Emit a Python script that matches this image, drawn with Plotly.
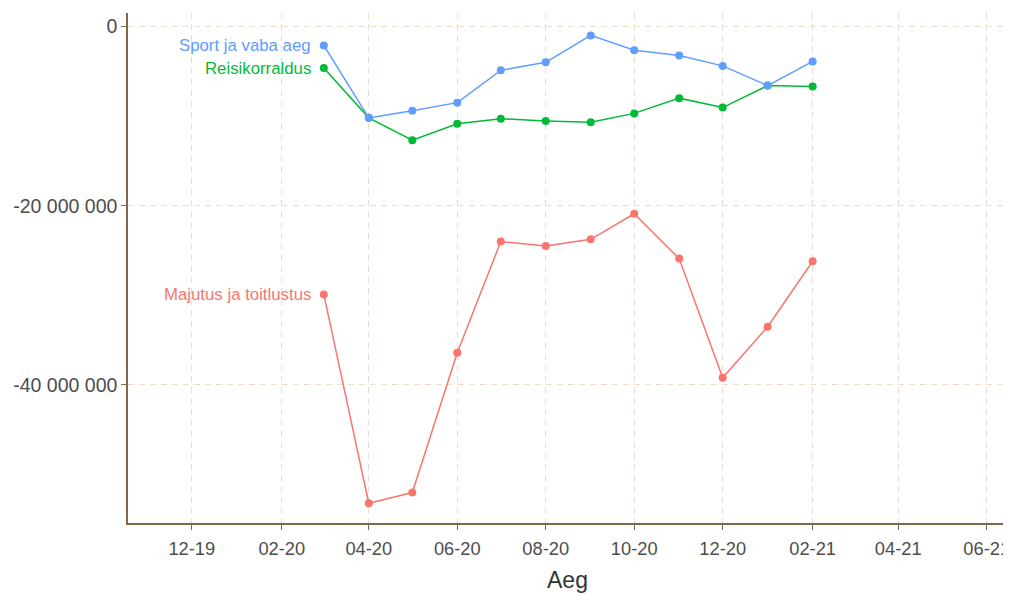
import plotly.graph_objects as go

months = ["2020-03-01", "2020-04-01", "2020-05-01", "2020-06-01", "2020-07-01", "2020-08-01",
          "2020-09-01", "2020-10-01", "2020-11-01", "2020-12-01", "2021-01-01", "2021-02-01"]

majutus = [-29.9e6, -53.2e6, -52.0e6, -36.4e6, -24.0e6, -24.5e6,
           -23.75e6, -20.9e6, -25.9e6, -39.2e6, -33.5e6, -26.2e6]
reisikorraldus = [-4.65e6, -10.2e6, -12.7e6, -10.85e6, -10.3e6, -10.55e6,
                  -10.7e6, -9.7e6, -8.0e6, -9.05e6, -6.6e6, -6.7e6]
sport = [-2.12e6, -10.2e6, -9.4e6, -8.5e6, -4.9e6, -4.0e6,
         -1.0e6, -2.65e6, -3.25e6, -4.4e6, -6.6e6, -3.9e6]

series = [
    ("Majutus ja toitlustus", majutus, "#F8766D"),
    ("Reisikorraldus", reisikorraldus, "#00BA38"),
    ("Sport ja vaba aeg", sport, "#619CFF"),
]

y_tickvals = [0, -20000000, -40000000]
y_ticktext = ["0", "-20 000 000", "-40 000 000"]

axis_col = "#84674A"
grid_col = "#EBDDCC"
tick_font_col = "#4D4D4D"

fig = go.Figure()
for name, vals, col in series:
    fig.add_trace(go.Scatter(
        x=months, y=vals, mode="lines+markers", name=name,
        line=dict(color=col, width=1.5),
        marker=dict(color=col, size=8),
        showlegend=False,
    ))
    fig.add_annotation(
        x=months[0], y=vals[0], text=name, showarrow=False,
        xanchor="right", yanchor="middle", xshift=-11,
        font=dict(family="Liberation Sans, Arial, sans-serif", size=16.8, color=col),
    )

fig.update_layout(
    width=1010, height=586,
    margin=dict(l=120, r=11, t=5, b=71, autoexpand=False),
    plot_bgcolor="white", paper_bgcolor="white",
    font=dict(family="Liberation Sans, Arial, sans-serif", color=tick_font_col),
)
fig.update_xaxes(
    range=["2019-10-18", "2021-06-15"],
    tick0="2019-12-01", dtick="M2", tickformat="%m-%y",
    showgrid=True, gridcolor=grid_col, griddash="6px,5px", gridwidth=1.3,
    showline=True, linecolor=axis_col, linewidth=1.5,
    ticks="outside", ticklen=5, tickcolor=axis_col,
    tickfont=dict(size=18.3, color=tick_font_col),
    ticklabeloverflow="allow", ticklabelstandoff=3,
    title=dict(text="Aeg", font=dict(size=23, color="#333333"), standoff=14),
    zeroline=False, automargin=False,
)
fig.update_yaxes(
    range=[-55.4e6, 1.5e6],
    tickvals=y_tickvals, ticktext=y_ticktext,
    showgrid=True, gridcolor=grid_col, griddash="6px,5px", gridwidth=1.3,
    showline=True, linecolor=axis_col, linewidth=1.5,
    ticks="outside", ticklen=5, tickcolor=axis_col,
    tickfont=dict(size=19.5, color=tick_font_col),
    zeroline=False, automargin=False,
)

fig.write_html("out.html")
